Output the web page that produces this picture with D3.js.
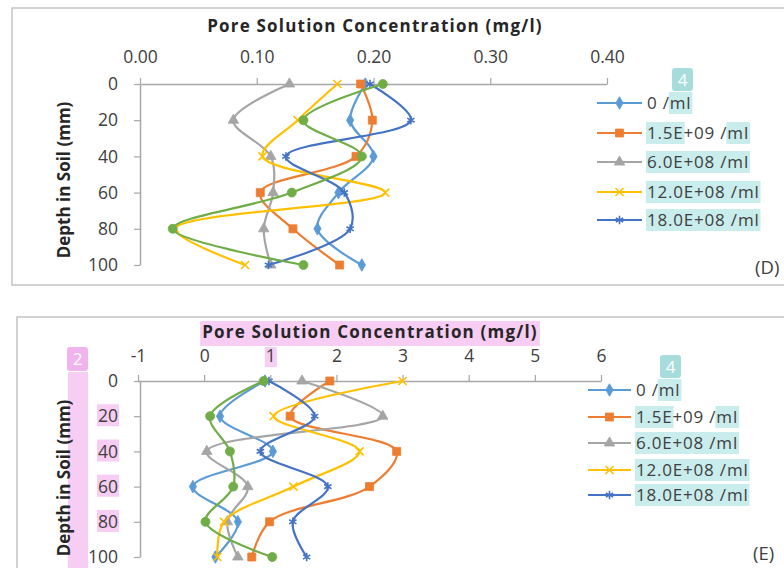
<!DOCTYPE html>
<html>
<head>
<meta charset="utf-8">
<script src="https://cdn.jsdelivr.net/npm/d3@7"></script>
<style>
  html, body { margin: 0; padding: 0; background: #fff; }
  svg { display: block; font-family: "Open Sans", Lato, sans-serif; }
</style>
</head>
<body>
<svg id="chart" width="784" height="568"></svg>
<script>
// Soil depths (mm) at which pore solution was sampled
const depths = [0, 20, 40, 60, 80, 100];

// Legend labels (bacterial concentration of each treatment)
const legendLabels = ["0 /ml", "1.5E+09 /ml", "6.0E+08 /ml", "12.0E+08 /ml", "18.0E+08 /ml"];

// Panel D: pore solution concentration (mg/l)
const dZero   = [0.193, 0.180, 0.200, 0.170, 0.152, 0.190];
const dOrange = [0.189, 0.199, 0.185, 0.103, 0.131, 0.171];
const dGray   = [0.128, 0.080, 0.112, 0.114, 0.106, 0.112];
const dYellow = [0.169, 0.135, 0.105, 0.210, 0.030, 0.090];
const dStar   = [0.197, 0.232, 0.125, 0.175, 0.180, 0.110];
const dGreen  = [0.208, 0.140, 0.190, 0.130, 0.028, 0.140];

// Panel E: pore solution concentration (mg/l)
const eZero   = [0.92, 0.24, 1.04, -0.17, 0.51, 0.17];
const eOrange = [1.90, 1.30, 2.91, 2.50, 0.99, 0.72];
const eGray   = [1.48, 2.70, 0.04, 0.66, 0.35, 0.51];
const eYellow = [3.00, 1.05, 2.35, 1.35, 0.30, 0.20];
const eStar   = [0.98, 1.67, 0.85, 1.87, 1.34, 1.55];
const eGreen  = [0.90, 0.09, 0.39, 0.44, 0.02, 1.03];

// Tick values
const dXTicks = [0, 0.1, 0.2, 0.3, 0.4];
const eXTicks = [-1, 0, 1, 2, 3, 4, 5, 6];
const yTicks = [0, 20, 40, 60, 80, 100];

// Series styling (colour + marker)
const seriesStyle = [
  { color: "#5B9BD5", symbol: d3.symbolDiamond, size: 46, stroke: false },
  { color: "#ED7D31", symbol: d3.symbolSquare, size: 64, stroke: false },
  { color: "#A5A5A5", symbol: d3.symbolTriangle, size: 48, stroke: false },
  { color: "#FFC000", symbol: d3.symbolTimes, size: 44, stroke: true },
  { color: "#4472C4", symbol: d3.symbolAsterisk, size: 50, stroke: true },
  { color: "#70AD47", symbol: d3.symbolCircle, size: 64, stroke: false }
];

const svg = d3.select("#chart");
svg.append("rect").attr("width", 784).attr("height", 568).attr("fill", "#fff");

const TEAL = "#c9ecec", TEAL_BADGE = "#a6dcdc", PINK = "#f7cdf3", PINK_BADGE = "#f1b3ee";
const labelColor = "#404040", axisColor = "#a6a6a6";

// Put a coloured box behind a character range of an svg text element
function highlight(textSel, start, len, color) {
  const node = textSel.node();
  const s = node.getStartPositionOfChar(start);
  const w = node.getSubStringLength(start, len);
  const bb = node.getBBox();
  d3.select(node.parentNode).insert("rect", () => node)
    .attr("x", s.x - 1).attr("y", bb.y + 1)
    .attr("width", w + 2).attr("height", bb.height - 1)
    .attr("fill", color);
}

function badge(g, x, y, w, h, color, txt) {
  g.append("rect").attr("x", x).attr("y", y).attr("width", w).attr("height", h)
    .attr("rx", 3).attr("fill", color);
  g.append("text").attr("x", x + w / 2).attr("y", y + h / 2 + 6)
    .attr("text-anchor", "middle").attr("fill", "#fff")
    .attr("font-size", 17).text(txt);
}

function panel(opts) {
  const g = svg.append("g");
  // panel frame
  g.append("rect").attr("x", opts.frame[0]).attr("y", opts.frame[1])
    .attr("width", opts.frame[2]).attr("height", opts.frame[3])
    .attr("fill", "none").attr("stroke", "#c4c4c4").attr("stroke-width", 1.5);

  const x = d3.scaleLinear().domain(opts.xDomain).range(opts.xRange);
  const y = d3.scaleLinear().domain([0, 100]).range(opts.yRange);

  // x axis along the top (depth 0)
  const xAxis = g.append("g").attr("transform", `translate(0,${y(0)})`)
    .call(d3.axisTop(x).tickValues(opts.xTicks).tickFormat(opts.xFormat)
      .tickSizeInner(6).tickSizeOuter(0).tickPadding(opts.xPad));
  xAxis.select(".domain").attr("stroke", axisColor).attr("stroke-width", 1.5);
  xAxis.selectAll(".tick line").attr("stroke", axisColor).attr("stroke-width", 1.2);
  xAxis.selectAll(".tick text").attr("fill", labelColor).attr("font-size", 17.5)
    .attr("font-family", "'Open Sans', sans-serif");

  // y axis (depth), on the left of the plot
  const yAxis = g.append("g").attr("transform", `translate(${opts.xRange[0] + opts.yAxisShift},0)`)
    .call(d3.axisLeft(y).tickValues(yTicks).tickSizeInner(6).tickSizeOuter(0).tickPadding(16));
  yAxis.select(".domain").attr("stroke", axisColor).attr("stroke-width", 1.5);
  yAxis.selectAll(".tick line").attr("stroke", axisColor).attr("stroke-width", 1.2);
  yAxis.selectAll(".tick text").attr("fill", labelColor).attr("font-size", 17.5)
    .attr("font-family", "'Open Sans', sans-serif");

  // titles
  const xTitle = g.append("text").attr("x", opts.titleX).attr("y", opts.titleY)
    .attr("text-anchor", "middle").attr("font-weight", 700).attr("font-size", 17)
    .attr("letter-spacing", 1.2)
    .attr("fill", "#262626").text("Pore Solution Concentration (mg/l)");
  const yTitle = g.append("text")
    .attr("transform", `translate(${opts.yTitleX},${opts.yTitleY}) rotate(-90)`)
    .attr("text-anchor", "middle").attr("font-weight", 700).attr("font-size", 17)
    .attr("fill", "#262626").text("Depth in Soil (mm)");

  // series
  const line = d3.line().x(d => x(d.v)).y(d => y(d.depth)).curve(d3.curveCatmullRom.alpha(0.5));
  const plot = g.append("g");
  opts.series.forEach((vals, i) => {
    const st = seriesStyle[i];
    const pts = depths.map((depth, k) => ({ depth, v: vals[k] }));
    plot.append("path").datum(pts).attr("d", line)
      .attr("fill", "none").attr("stroke", st.color).attr("stroke-width", 2.2);
    plot.selectAll(null).data(pts).enter().append("path")
      .attr("transform", d => `translate(${x(d.v)},${y(d.depth)})`)
      .attr("d", d3.symbol(st.symbol, st.size))
      .attr("fill", st.stroke ? "none" : st.color)
      .attr("stroke", st.color).attr("stroke-width", st.stroke ? 1.6 : 0.8);
  });

  // legend
  const lg = g.append("g");
  legendLabels.forEach((lab, i) => {
    const st = seriesStyle[i];
    const ly = opts.legendY[i];
    lg.append("line").attr("x1", opts.legendX).attr("x2", opts.legendX + opts.legendLen)
      .attr("y1", ly).attr("y2", ly).attr("stroke", st.color).attr("stroke-width", 2.2);
    lg.append("path").attr("transform", `translate(${opts.legendX + opts.legendLen / 2},${ly})`)
      .attr("d", d3.symbol(st.symbol, st.size))
      .attr("fill", st.stroke ? "none" : st.color).attr("stroke", st.color)
      .attr("stroke-width", st.stroke ? 1.6 : 0.8);
    const t = lg.append("text").attr("x", opts.legendX + opts.legendLen + 5).attr("y", ly + 6)
      .attr("font-size", 17).attr("letter-spacing", 0.8).attr("fill", labelColor).text(lab);
    if (i === 0) highlight(t, 3, 2, TEAL);
    else if (i === 1) { highlight(t, 0, 4, TEAL); highlight(t, 9, 2, TEAL); }
    else highlight(t, 0, lab.length, TEAL);
  });
  badge(g, opts.badgeX, opts.badgeY, 21, 23, TEAL_BADGE, "4");

  // panel tag
  g.append("text").attr("x", opts.tagX).attr("y", opts.tagY).attr("font-size", 18.5)
    .attr("fill", labelColor).text(opts.tag);

  return { g, xTitle, yTitle, xAxis, yAxis };
}

const pD = panel({
  frame: [12, 8, 800, 277],
  xDomain: [0, 0.4], xRange: [140, 607], yRange: [84, 265], yAxisShift: 0, xPad: 15,
  xTicks: dXTicks, xFormat: d3.format(".2f"),
  titleX: 375, titleY: 32, yTitleX: 70, yTitleY: 180,
  series: [dZero, dOrange, dGray, dYellow, dStar, dGreen],
  legendX: 597, legendLen: 45, legendY: [103, 133, 162, 192, 220],
  badgeX: 672, badgeY: 68, tagX: 755, tagY: 274, tag: "(D)"
});

const pE = panel({
  frame: [17, 317, 800, 300],
  xDomain: [-1, 6], xRange: [138, 601], yRange: [381, 557], yAxisShift: 2, xPad: 13,
  xTicks: eXTicks, xFormat: d => String(d),
  titleX: 370, titleY: 338, yTitleX: 70, yTitleY: 478,
  series: [eZero, eOrange, eGray, eYellow, eStar, eGreen],
  legendX: 588, legendLen: 43, legendY: [390, 417, 443, 470, 495],
  badgeX: 660, badgeY: 355, tagX: 753, tagY: 560, tag: "(E)"
});

// Pink marks in panel E: title, the "1" tick, depth labels 20-80 and the depth title band
(function () {
  const g = pE.g;
  const t = pE.xTitle.node();
  const bb = t.getBBox();
  g.insert("rect", () => t).attr("x", bb.x - 2).attr("y", 321).attr("width", bb.width + 4)
    .attr("height", 25).attr("fill", PINK);
  pE.xAxis.selectAll(".tick").filter(d => d === 1).each(function () {
    const tx = d3.select(this).select("text").node();
    const b = tx.getBBox();
    d3.select(this).insert("rect", "text").attr("x", b.x - 1).attr("y", b.y + 4)
      .attr("width", b.width + 2).attr("height", b.height - 4).attr("fill", PINK);
  });
  pE.yAxis.selectAll(".tick").filter(d => d >= 20 && d <= 80).each(function () {
    const tx = d3.select(this).select("text").node();
    const b = tx.getBBox();
    d3.select(this).insert("rect", "text").attr("x", b.x - 1).attr("y", b.y + 1)
      .attr("width", b.width + 2).attr("height", b.height - 2).attr("fill", PINK);
  });
  g.insert("rect", () => pE.yTitle.node()).attr("x", 68).attr("y", 372)
    .attr("width", 20).attr("height", 200).attr("fill", PINK);
  badge(g, 67, 347, 21, 24, PINK_BADGE, "2");
})();
</script>
</body>
</html>
